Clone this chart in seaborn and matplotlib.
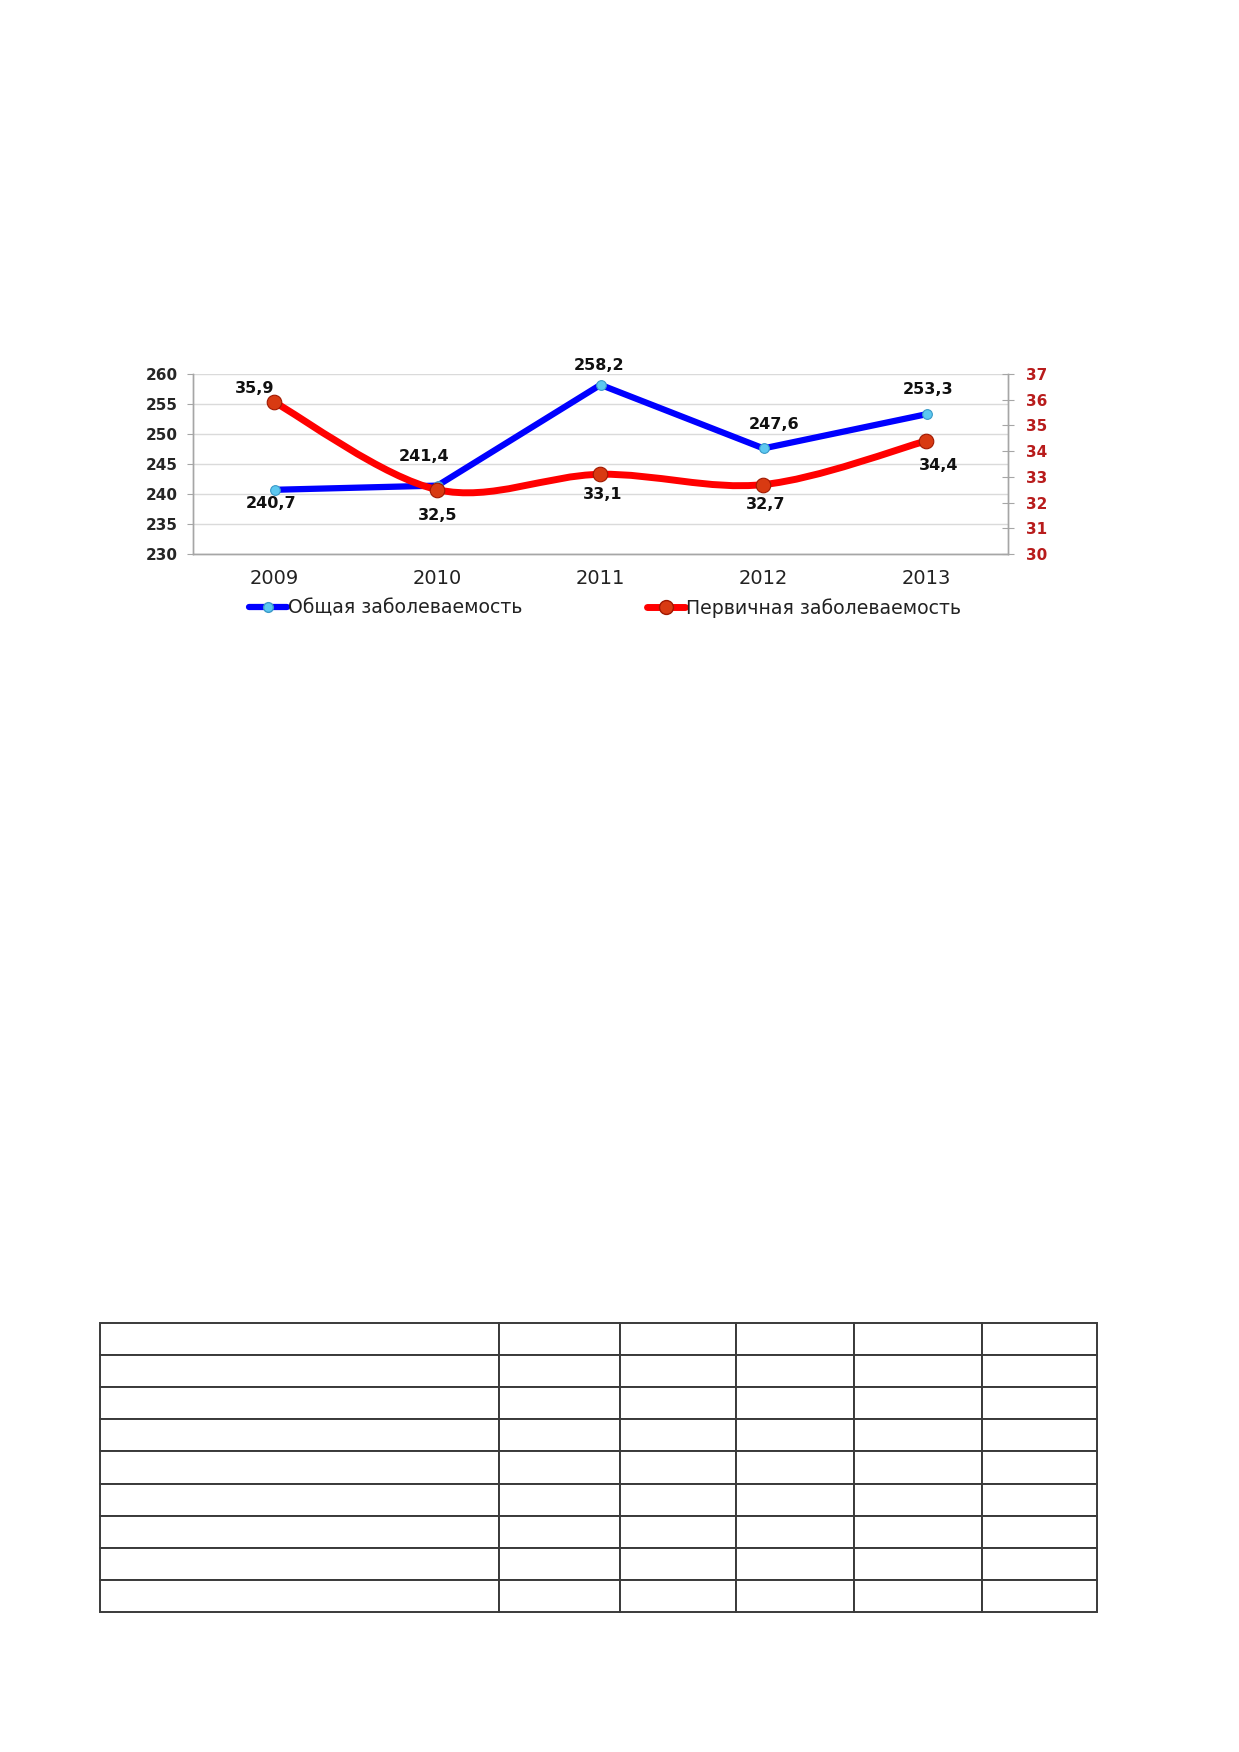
import numpy as np
import seaborn as sns
import matplotlib.pyplot as plt
from matplotlib.path import Path
from matplotlib.patches import PathPatch
from matplotlib.lines import Line2D

years = ['2009', '2010', '2011', '2012', '2013']
total = [240.7, 241.4, 258.2, 247.6, 253.3]
primary = [35.9, 32.5, 33.1, 32.7, 34.4]
total_name = 'Общая заболеваемость'
primary_name = 'Первичная заболеваемость'

# label offsets in pixels (dx, dy), screen direction
total_off = [(-3, -14), (-13, 29), (-1, 19), (11, 24), (2, 25)]
primary_off = [(-20, 14), (0, -26), (2, -20), (2, -20), (12, -25)]

sns.set_style("white")
plt.rcParams['font.family'] = ['DejaVu Sans']


def smooth_path(x, y):
    # excel-like smoothed line, cubic bezier segments
    pts = np.column_stack([x, y]).astype(float)
    n = len(pts)
    verts = [pts[0]]
    codes = [Path.MOVETO]
    for i in range(n - 1):
        p0 = pts[max(i - 1, 0)]
        p1 = pts[i]
        p2 = pts[i + 1]
        p3 = pts[min(i + 2, n - 1)]
        verts += [p1 + (p2 - p0) / 6, p2 - (p3 - p1) / 6, p2]
        codes += [Path.CURVE4] * 3
    return Path(verts, codes)


fig = plt.figure(figsize=(12.39, 17.52), dpi=100)
ax = fig.add_axes([193 / 1239, 1 - 554 / 1752, 815 / 1239, 180 / 1752])
ax2 = ax.twinx()

xs = np.arange(len(years))

sns.lineplot(x=xs, y=total, ax=ax, color='#0000FF', lw=4.5, marker='o',
             markersize=7, markerfacecolor='#5CC8F0', markeredgecolor='#3A9AC8',
             markeredgewidth=0.8, zorder=3)

ax2.add_patch(PathPatch(smooth_path(xs, primary), fill=False, edgecolor='#FF0000',
                        lw=5, capstyle='round', zorder=2))
sns.scatterplot(x=xs, y=primary, ax=ax2, s=110, color='#D83A12', edgecolor='#A01800',
                linewidth=0.8, zorder=4)

ax.set_xlim(-0.5, len(years) - 0.5)
ax.set_ylim(230, 260)
ax2.set_ylim(30, 37)
ax.set_yticks(np.arange(230, 261, 5))
ax2.set_yticks(np.arange(30, 38, 1))
ax.set_xticks(xs)
ax.set_xticklabels(years)
ax.set_xticks(np.arange(-0.5, len(years), 1), minor=True)

ax.yaxis.grid(True, color='#DADADA', lw=1)
ax.set_axisbelow(True)

for a in (ax, ax2):
    a.spines['top'].set_visible(False)
    for s in ('left', 'right', 'bottom'):
        a.spines[s].set_color('#A6A6A6')
        a.spines[s].set_linewidth(1)

ax.tick_params(axis='x', which='major', length=0, pad=11, labelsize=14, labelcolor='#222222')
ax.tick_params(axis='x', which='minor', length=8, direction='inout', color='#A6A6A6')
ax.tick_params(axis='y', length=4, color='#A6A6A6', pad=7, labelsize=11)
ax2.tick_params(axis='y', length=8, direction='inout', color='#A6A6A6', pad=9,
                labelsize=11, labelcolor='#B81C1C')
for lab in ax.get_yticklabels() + ax2.get_yticklabels():
    lab.set_fontweight('bold')
ax.set(xlabel='', ylabel='')
ax2.set(xlabel='', ylabel='')

for i, v in enumerate(total):
    ax.annotate(f'{v:.1f}'.replace('.', ','), (xs[i], v), xytext=(total_off[i][0], total_off[i][1]),
                textcoords='offset pixels', ha='center', va='center',
                fontsize=11.5, fontweight='bold', color='#111111', zorder=6)
for i, v in enumerate(primary):
    ax2.annotate(f'{v:.1f}'.replace('.', ','), (xs[i], v), xytext=(primary_off[i][0], primary_off[i][1]),
                 textcoords='offset pixels', ha='center', va='center',
                 fontsize=11.5, fontweight='bold', color='#111111', zorder=6)

handles = [
    Line2D([], [], color='#0000FF', lw=4.5, marker='o', markersize=7,
           markerfacecolor='#5CC8F0', markeredgecolor='#3A9AC8'),
    Line2D([], [], color='#FF0000', lw=5, marker='o', markersize=10,
           markerfacecolor='#D83A12', markeredgecolor='#A01800'),
]
fig.legend(handles, [total_name, primary_name], loc='center',
           bbox_to_anchor=(605 / 1239, 1 - 608 / 1752), ncol=2, frameon=False,
           fontsize=13.6, handlelength=2.0, handletextpad=0.05, columnspacing=6.6,
           labelcolor='#222222')

# empty table below the chart
axt = fig.add_axes([100 / 1239, 1 - 1612 / 1752, 997 / 1239, 289 / 1752])
axt.axis('off')
col_w = [0.400, 0.122, 0.116, 0.118, 0.129, 0.115]
tbl = axt.table(cellText=[[''] * 6 for _ in range(9)], colWidths=col_w,
                bbox=[0, 0, 1, 1])
for cell in tbl.get_celld().values():
    cell.set_edgecolor('#3A3A3A')
    cell.set_linewidth(1.4)

fig.savefig('out.png', dpi=100)
